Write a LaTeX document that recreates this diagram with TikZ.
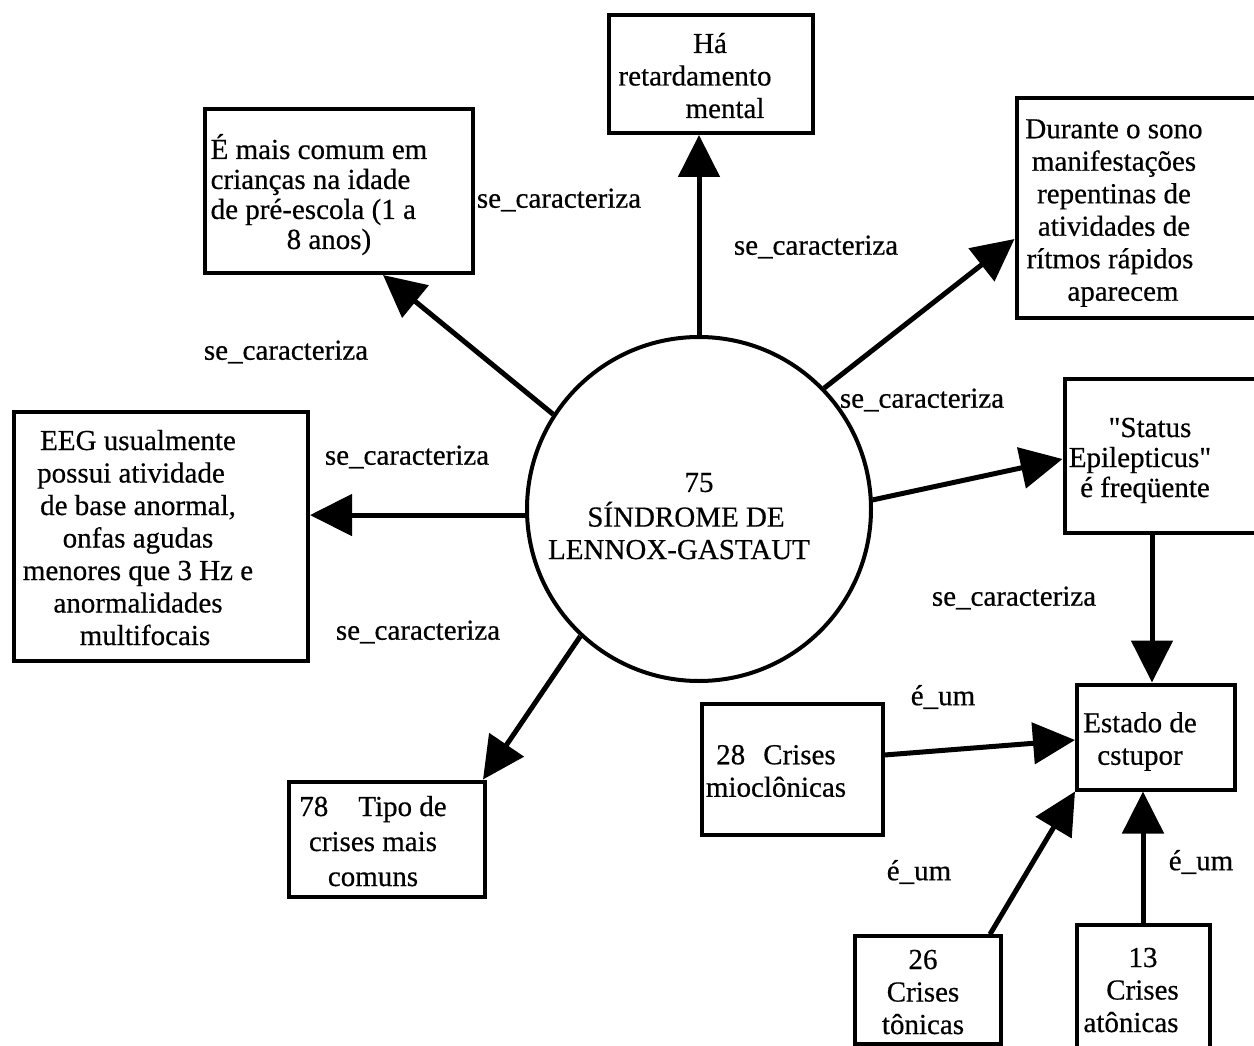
\documentclass[tikz,border=0pt]{standalone}
\usepackage{fontspec}
\setmainfont{Liberation Serif}[FakeBold=0.5]
\usetikzlibrary{arrows.meta}

% centred lines, moved sideways inside the box by #1
\newcommand{\boxtext}[3][0pt]{\hspace*{#1}\begin{tabular}{@{}#2@{}}\noalign{\vskip10pt}#3\end{tabular}\hspace*{-#1}}

\begin{document}
\begin{tikzpicture}[x=1pt, y=-1pt,
  conc/.style={draw, line width=4pt, inner sep=0pt, font=\fontsize{29}{32.5}\selectfont},
  rel/.style={inner sep=0pt, font=\fontsize{29}{32.5}\selectfont},
  arrow/.style={-{Triangle[length=42pt, width=41pt]}, line width=5pt}
]
\useasboundingbox (0,0) rectangle (1254,1046);

\node[conc, circle, minimum size=344pt] (lgs) at (699,509)
  {\boxtext[-20pt]{c}{\noalign{\vskip10pt}\hspace*{40pt}75\\\hspace*{14pt}SÍNDROME DE\\LENNOX-GASTAUT}};

\node[conc, minimum width=204pt, minimum height=118pt] (has) at (711,74)
  {\boxtext[-16pt]{c}{\hspace*{30pt}Há\\retardamento\\\hspace*{60pt}mental}};
\node[conc, minimum width=268pt, minimum height=164pt,
      font=\fontsize{29}{30}\selectfont] (early) at (339,191)
  {\boxtext[-20pt]{l}{É mais comum em\\crianças na idade\\de pré-escola (1 a\\\hspace*{76pt}8 anos)}};
\node[conc, minimum width=243pt, minimum height=219pt] (sleep) at (1138,208)
  {\boxtext[-24pt]{c}{Durante o sono\\manifestações\\repentinas de\\atividades de\\rítmos rápidos\hspace*{8pt}\\\hspace*{18pt}aparecem}};
\node[conc, minimum width=294pt, minimum height=249pt] (eeg) at (161,536)
  {\boxtext[-23pt]{c}{EEG usualmente\\possui atividade\hspace*{14pt}\\de base anormal,\\onfas agudas\\menores que 3 Hz e\\anormalidades\\\hspace*{14pt}multifocais}};
\node[conc, minimum width=195pt, minimum height=154pt,
      font=\fontsize{29}{30}\selectfont] (status) at (1162,456)
  {\boxtext[-17pt]{c}{\hspace*{10pt}\textquotedbl Status\\Epilepticus\textquotedbl\hspace*{10pt}\\é freqüente}};
\node[conc, minimum width=158pt, minimum height=105pt] (estado) at (1156,737)
  {\boxtext[-16pt]{c}{Estado de\\cstupor}};
\node[conc, minimum width=181pt, minimum height=131pt] (myo) at (792,769)
  {\boxtext[-16pt]{c}{28\hspace{18pt}Crises\\mioclônicas}};
\node[conc, minimum width=196pt, minimum height=111pt,
      font=\fontsize{29}{35}\selectfont] (tipo) at (387,839)
  {\boxtext[-14pt]{c}{78\hspace{30pt}Tipo de\\crises mais\\comuns}};
\node[conc, minimum width=146pt, minimum height=106pt] (tonic) at (928,990)
  {\boxtext[-5pt]{c}{26\\Crises\\tônicas}};
\node[conc, minimum width=133pt, minimum height=126pt] (atonic) at (1143,988)
  {\boxtext[-12pt]{c}{\hspace*{24pt}13\\\hspace*{23pt}Crises\\atônicas}};

% relation names
\node[rel] (sc1) at (559,200) {se\_caracteriza};
\node[rel] (sc2) at (816,247) {se\_caracteriza};
\node[rel] (sc3) at (286,352) {se\_caracteriza};
\node[rel] (sc4) at (407,457) {se\_caracteriza};
\node[rel] (sc5) at (418,632) {se\_caracteriza};
\node[rel] (sc6) at (922,400) {se\_caracteriza};
\node[rel] (sc7) at (1014,598) {se\_caracteriza};
\node[rel] (isa1) at (943,697) {é\_um};
\node[rel] (isa2) at (919,872) {é\_um};
\node[rel] (isa3) at (1201,862) {é\_um};

\draw[arrow] (lgs.north) -- (lgs.north |- has.south);
\draw[arrow] (lgs.147) -- ([xshift=44pt]early.south);
\draw[arrow] (lgs.44) -- ([yshift=-31pt]sleep.west);
\draw[arrow] (lgs.182) -- (lgs.182 -| eeg.east);
\draw[arrow] (lgs.3) -- ([yshift=-3pt]status.west);
\draw[arrow] (lgs.227) -- ([xshift=-4pt]tipo.north east);
\draw[arrow] ([xshift=-4pt]estado.north |- status.south) -- ([xshift=-4pt]estado.north);
\draw[arrow] ([yshift=14pt]myo.east) -- ([yshift=-3pt]estado.west);
\draw[arrow] ([xshift=62pt]tonic.north) -- (estado.south west);
\draw[arrow] (atonic.north) -- (atonic.north |- estado.south);
\end{tikzpicture}
\end{document}
